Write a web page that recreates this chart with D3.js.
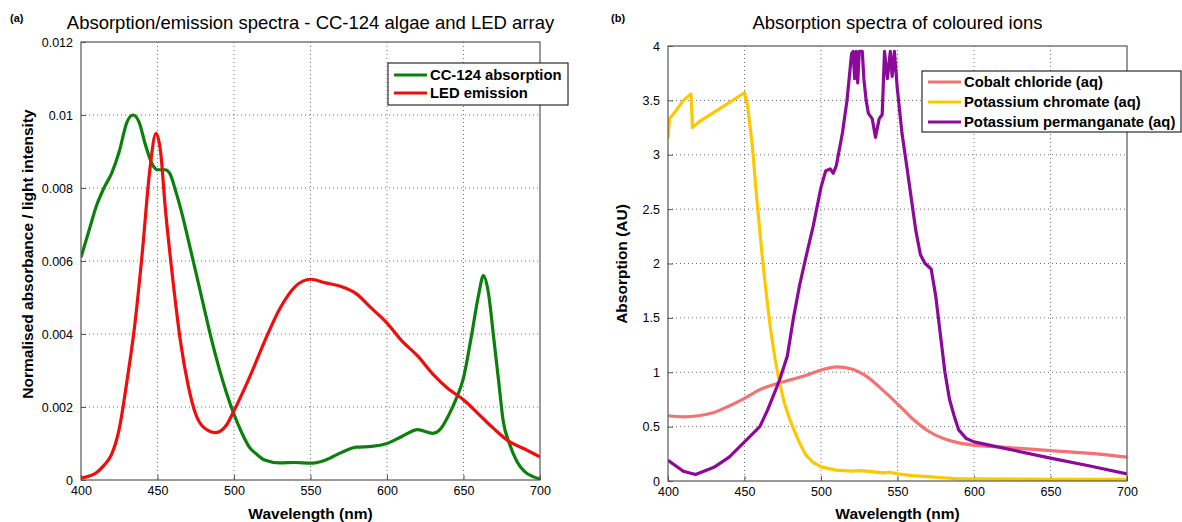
<!DOCTYPE html>
<html lang="en">
<head>
<meta charset="UTF-8"/>
<title>Absorption / emission spectra</title>
<script src="https://d3js.org/d3.v7.min.js"></script>
<style>
  body { margin: 0; background: #fff; }
  svg text { font-family: "Liberation Sans", Arial, sans-serif; fill: #000; }
  .grid line { stroke: #000; stroke-width: 0.8; stroke-dasharray: 1,3; opacity: 0.7; }
</style>
</head>
<body>
<script>

// ---- data (a): CC-124 algae and LED array ----
var greenNm  = [400,405,410,415,420,425,430,434,438,442,446,450,455,458,462,466,470,475,480,485,490,495,500,505,510,515,520,530,540,550,560,570,580,590,600,610,620,630,635,640,645,650,655,660,663,666,670,673,676,680,685,690,695,700];
var greenAbs = [0.0061,0.0068,0.0075,0.0080,0.0084,0.0090,0.0098,0.0100,0.0098,0.0092,0.0087,0.0085,0.0085,0.0084,0.0079,0.0073,0.0066,0.0057,0.0048,0.0039,0.0031,0.0024,0.0018,0.0013,0.0009,0.0007,0.00055,0.00047,0.00048,0.00046,0.00055,0.00075,0.0009,0.00092,0.001,0.0012,0.00138,0.00128,0.0014,0.00175,0.0022,0.0028,0.0039,0.0051,0.0056,0.0052,0.0038,0.0027,0.0016,0.001,0.0005,0.00023,0.0001,0.00003];

var redNm  = [400,405,410,415,420,425,430,435,440,445,449,452,455,460,465,470,475,480,488,495,500,510,520,530,540,550,560,570,580,590,600,610,620,630,640,650,660,670,680,690,700];
var redEm  = [0.00005,0.0001,0.0002,0.0004,0.0007,0.0014,0.0027,0.0042,0.0062,0.0085,0.0095,0.009,0.0075,0.0055,0.0038,0.0026,0.0018,0.00145,0.0013,0.0015,0.0019,0.0028,0.0038,0.0047,0.0053,0.0055,0.0054,0.0053,0.0051,0.0047,0.0043,0.0038,0.0034,0.0029,0.0025,0.0022,0.0018,0.0014,0.00105,0.00085,0.00063];

// ---- data (b): coloured ions ----
var cobaltNm  = [400,410,420,430,440,450,460,470,480,490,500,510,520,530,540,550,560,570,580,590,600,620,650,680,700];
var cobaltAbs = [0.6,0.59,0.6,0.63,0.69,0.76,0.84,0.89,0.93,0.97,1.02,1.05,1.03,0.96,0.84,0.71,0.57,0.46,0.39,0.35,0.33,0.31,0.28,0.25,0.22];

var chromNm  = [400,401,405,410,415,416,420,430,440,450,452,455,458,461,464,467,470,473,476,480,485,490,495,500,510,520,525,530,540,545,550,560,570,580,590,600,650,700];
var chromAbs = [3.15,3.33,3.4,3.5,3.56,3.25,3.3,3.39,3.48,3.57,3.45,3.1,2.6,2.15,1.75,1.4,1.12,0.9,0.72,0.55,0.38,0.24,0.17,0.13,0.1,0.09,0.095,0.09,0.075,0.08,0.065,0.05,0.04,0.03,0.02,0.02,0.015,0.015];

var permNm  = [400,410,418,430,440,450,460,465,473,478,482,486,490,495,500,503,506,508,510,514,517,520,521,522,523,524,525,527,528,529.5,531,533.5,535.6,538,540,541.5,543.4,545.3,546.5,548,549.8,553,556,559,562,565,568,572,575,578,581,584,587,590,595,600,610,625,650,675,700];
var permAbs = [0.19,0.09,0.06,0.126,0.22,0.36,0.5,0.65,0.93,1.15,1.5,1.8,2.05,2.35,2.7,2.85,2.87,2.83,2.9,3.2,3.5,3.93,3.95,3.7,3.95,3.66,3.95,3.95,3.7,3.5,3.38,3.33,3.16,3.33,3.37,3.95,3.7,3.95,3.72,3.95,3.62,3.19,2.9,2.6,2.3,2.08,2.0,1.95,1.7,1.35,1.0,0.75,0.6,0.47,0.39,0.36,0.33,0.285,0.21,0.14,0.065];

var xTicks  = [400,450,500,550,600,650,700];
var yTicksA = [0,0.002,0.004,0.006,0.008,0.01,0.012];
var yTicksB = [0,0.5,1,1.5,2,2.5,3,3.5,4];

var w = 1182, h = 522;

var svg = d3.select("body").append("svg")
    .attr("width", w)
    .attr("height", h);

function drawPanel(cfg) {
    var x = d3.scaleLinear().domain([400, 700]).range([cfg.left, cfg.right]);
    var y = d3.scaleLinear().domain(cfg.yDomain).range([cfg.bottom, cfg.top]);

    var g = svg.append("g");

    // dotted grid
    var grid = g.append("g").attr("class", "grid");
    grid.selectAll(".vx").data(xTicks.slice(1, -1)).enter().append("line")
        .attr("x1", function(d){ return x(d); }).attr("x2", function(d){ return x(d); })
        .attr("y1", cfg.top).attr("y2", cfg.bottom);
    grid.selectAll(".hy").data(cfg.yTicks.slice(1, -1)).enter().append("line")
        .attr("x1", cfg.left).attr("x2", cfg.right)
        .attr("y1", function(d){ return y(d); }).attr("y2", function(d){ return y(d); });

    // axes, ticks pointing inwards (matlab style)
    var xAxis = d3.axisBottom(x).tickValues(xTicks).tickSizeInner(-5).tickSizeOuter(0).tickPadding(8);
    var yAxis = d3.axisLeft(y).tickValues(cfg.yTicks).tickFormat(cfg.fmt).tickSizeInner(-5).tickSizeOuter(0).tickPadding(8);

    var gx = g.append("g").attr("transform", "translate(0," + cfg.bottom + ")").call(xAxis);
    var gy = g.append("g").attr("transform", "translate(" + cfg.left + ",0)").call(yAxis);
    [gx, gy].forEach(function(a){
        a.selectAll("path").remove();
        a.selectAll("line").attr("stroke", "#555");
        a.selectAll("text").style("font-size", "12.5px").attr("fill", "#000");
    });
    gx.selectAll("text").attr("dy", "0.55em");

    // clipped curves
    var clipId = "clip" + cfg.id;
    svg.append("clipPath").attr("id", clipId).append("rect")
        .attr("x", cfg.left).attr("y", cfg.top - 2)
        .attr("width", cfg.right - cfg.left).attr("height", cfg.bottom - cfg.top + 2);

    cfg.series.forEach(function(s){
        var pts = s.nm.map(function(n, i){ return [n, s.v[i]]; });
        g.append("path")
            .datum(pts)
            .attr("clip-path", "url(#" + clipId + ")")
            .attr("fill", "none")
            .attr("stroke", s.color)
            .attr("stroke-width", 3.2)
            .attr("stroke-linejoin", "round")
            .attr("d", d3.line()
                .curve(s.smooth ? d3.curveMonotoneX : d3.curveLinear)
                .x(function(d){ return x(d[0]); })
                .y(function(d){ return y(d[1]); }));
    });

    // plot box
    g.append("rect")
        .attr("x", cfg.left).attr("y", cfg.top)
        .attr("width", cfg.right - cfg.left).attr("height", cfg.bottom - cfg.top)
        .attr("fill", "none").attr("stroke", "#555").attr("stroke-width", 1.2);

    // title, panel letter, axis labels
    svg.append("text")
        .attr("x", (cfg.left + cfg.right) / 2).attr("y", 29)
        .attr("text-anchor", "middle")
        .style("font-size", "18.5px")
        .text(cfg.title);
    svg.append("text")
        .attr("x", cfg.letterX).attr("y", 22)
        .style("font-size", "11px").style("font-weight", "bold")
        .text(cfg.letter);
    svg.append("text")
        .attr("x", (cfg.left + cfg.right) / 2).attr("y", 519)
        .attr("text-anchor", "middle")
        .style("font-size", "15.5px").style("font-weight", "bold")
        .text("Wavelength (nm)");
    svg.append("text")
        .attr("transform", "translate(" + cfg.yLabelX + "," + cfg.yLabelY + ") rotate(-90)")
        .attr("text-anchor", "middle")
        .style("font-size", "15.5px").style("font-weight", "bold")
        .text(cfg.yLabel);

    // legend
    var L = cfg.legend;
    var lg = svg.append("g");
    lg.append("rect")
        .attr("x", L.x).attr("y", L.y).attr("width", L.w).attr("height", L.h)
        .attr("fill", "#fff").attr("stroke", "#000").attr("stroke-width", 1);
    cfg.series.forEach(function(s, i){
        var ry = L.y + L.first + i * L.step;
        lg.append("line")
            .attr("x1", L.x + 6).attr("x2", L.x + 39)
            .attr("y1", ry).attr("y2", ry)
            .attr("stroke", s.color).attr("stroke-width", 3.2);
        lg.append("text")
            .attr("x", L.x + 42).attr("y", ry + 5)
            .style("font-size", "14.8px").style("font-weight", "bold")
            .text(s.name);
    });
}

drawPanel({
    id: "a", left: 81, right: 540, top: 42, bottom: 480,
    yDomain: [0, 0.012], yTicks: yTicksA,
    fmt: function(d){ return d === 0 ? "0" : String(+d.toFixed(3)); },
    title: "Absorption/emission spectra - CC-124 algae and LED array",
    letter: "(a)", letterX: 10,
    yLabel: "Normalised absorbance / light intensity", yLabelX: 33, yLabelY: 254,
    legend: { x: 388, y: 63, w: 180, h: 42, first: 12, step: 18 },
    series: [
        { name: "CC-124 absorption", nm: greenNm, v: greenAbs, color: "#0b800b", smooth: true },
        { name: "LED emission", nm: redNm, v: redEm, color: "#f20d0d", smooth: true }
    ]
});

drawPanel({
    id: "b", left: 668, right: 1127, top: 46, bottom: 481,
    yDomain: [0, 4], yTicks: yTicksB,
    fmt: function(d){ return String(d); },
    title: "Absorption spectra of coloured ions",
    letter: "(b)", letterX: 611,
    yLabel: "Absorption (AU)", yLabelX: 627, yLabelY: 264,
    legend: { x: 922, y: 71, w: 259, h: 61, first: 11, step: 20 },
    series: [
        { name: "Cobalt chloride (aq)", nm: cobaltNm, v: cobaltAbs, color: "#f47272", smooth: true },
        { name: "Potassium chromate (aq)", nm: chromNm, v: chromAbs, color: "#fcc800" },
        { name: "Potassium permanganate (aq)", nm: permNm, v: permAbs, color: "#8c0a99" }
    ]
});

</script>
</body>
</html>
